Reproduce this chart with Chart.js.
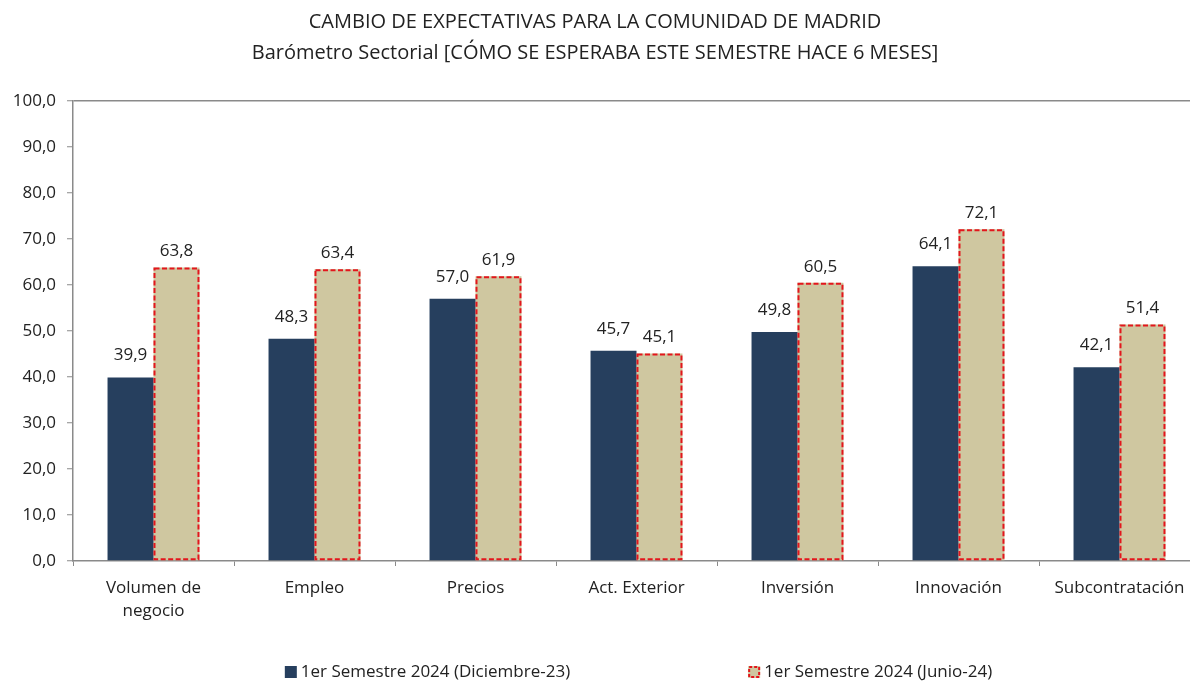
<!DOCTYPE html>
<html lang="es">
<head>
<meta charset="UTF-8">
<title>Cambio de expectativas - Comunidad de Madrid</title>
<script src="https://cdn.jsdelivr.net/npm/chart.js"></script>
<style>
    html, body { margin: 0; padding: 0; background: #fff; overflow: hidden; }
    .wrap { position: relative; width: 1190px; height: 682px; overflow: hidden; }
    #chart { position: absolute; left: -10px; top: 0; }
</style>
</head>
<body>
<div class="wrap">
    <canvas id="chart" width="1210" height="682"></canvas>
</div>
<script>
const titleLines = [
    'CAMBIO DE EXPECTATIVAS PARA LA COMUNIDAD DE MADRID',
    'Barómetro Sectorial [CÓMO SE ESPERABA ESTE SEMESTRE HACE 6 MESES]'
];
const categories = [
    ['Volumen de', 'negocio'], 'Empleo', 'Precios', 'Act. Exterior',
    'Inversión', 'Innovación', 'Subcontratación'
];
const seriesNames = ['1er Semestre 2024 (Diciembre-23)', '1er Semestre 2024 (Junio-24)'];
const valuesDic23 = [39.9, 48.3, 57.0, 45.7, 49.8, 64.1, 42.1];
const valuesJun24 = [63.8, 63.4, 61.9, 45.1, 60.5, 72.1, 51.4];

const NAVY = '#263f5e';
const TAN = '#cfc7a0';
const RED = '#e3161c';
const AXIS = '#8a8a8a';
const TEXT = '#222222';
const FONT = '"Open Sans", "Noto Sans", sans-serif';

const fmt = v => v.toFixed(1).replace('.', ',');

// red dashed outline for the second series (bar elements have no borderDash)
const dashedBorder = {
    id: 'dashedBorder',
    afterDatasetsDraw(chart) {
        const ctx = chart.ctx;
        const meta = chart.getDatasetMeta(1);
        ctx.save();
        ctx.strokeStyle = RED;
        ctx.lineWidth = 2;
        ctx.setLineDash([5, 2.5]);
        meta.data.forEach(bar => {
            const p = bar.getProps(['x', 'y', 'base', 'width'], true);
            ctx.strokeRect(p.x - p.width / 2 + 1, p.y + 1, p.width - 2, p.base - p.y - 2);
        });
        ctx.restore();
    }
};

// value labels above bars
const valueLabels = {
    id: 'valueLabels',
    afterDatasetsDraw(chart) {
        const ctx = chart.ctx;
        ctx.save();
        ctx.font = '17px ' + FONT;
        ctx.fillStyle = TEXT;
        ctx.textAlign = 'center';
        ctx.textBaseline = 'middle';
        chart.data.datasets.forEach((ds, i) => {
            const lift = i === 0 ? 22 : 16;
            chart.getDatasetMeta(i).data.forEach((bar, j) => {
                ctx.fillText(fmt(ds.data[j]), bar.x, bar.y - lift);
            });
        });
        ctx.restore();
    }
};

// legend at the bottom, drawn by hand so the spacing matches
const bottomLegend = {
    id: 'bottomLegend',
    afterDraw(chart) {
        const ctx = chart.ctx;
        const area = chart.chartArea;
        const box = 12, gap = 4, itemGap = 178;
        ctx.save();
        ctx.font = '17px ' + FONT;
        const widths = seriesNames.map(n => box + gap + ctx.measureText(n).width);
        const total = widths[0] + itemGap + widths[1];
        let x = (area.left + area.right) / 2 - total / 2 + 2;
        const y = chart.height - 10;
        chart.data.datasets.forEach((ds, i) => {
            ctx.fillStyle = ds.backgroundColor;
            ctx.fillRect(x, y - box / 2, box, box);
            if (i === 1) {
                ctx.strokeStyle = RED;
                ctx.lineWidth = 2;
                ctx.setLineDash([3, 2]);
                ctx.strokeRect(x + 1, y - box / 2 + 1, box - 2, box - 2);
                ctx.setLineDash([]);
            }
            ctx.fillStyle = TEXT;
            ctx.textAlign = 'left';
            ctx.textBaseline = 'middle';
            ctx.fillText(seriesNames[i], x + box + gap, y);
            x += widths[i] + itemGap;
        });
        ctx.restore();
    }
};

new Chart(document.getElementById('chart'), {
    type: 'bar',
    data: {
        labels: categories,
        datasets: [
            { label: seriesNames[0], data: valuesDic23, backgroundColor: NAVY, borderWidth: 0 },
            { label: seriesNames[1], data: valuesJun24, backgroundColor: TAN, borderWidth: 0 }
        ]
    },
    options: {
        responsive: false,
        animation: false,
        devicePixelRatio: 1,
        categoryPercentage: 0.571,
        barPercentage: 1,
        layout: { padding: 0 },
        plugins: {
            legend: { display: false },
            tooltip: { enabled: false },
            title: {
                display: true,
                text: titleLines,
                color: TEXT,
                font: { family: FONT, size: 20, weight: 'normal', lineHeight: 31 / 20 },
                padding: { top: 7, bottom: 32 }
            }
        },
        scales: {
            x: {
                afterFit: s => { s.height = 121; },
                grid: {
                    offset: true,
                    drawOnChartArea: false,
                    tickLength: 5,
                    tickColor: AXIS,
                    tickWidth: 1
                },
                border: { color: AXIS, width: 1.5 },
                ticks: {
                    color: TEXT,
                    padding: 11,
                    maxRotation: 0,
                    autoSkip: false,
                    font: { family: FONT, size: 17, lineHeight: 23 / 17 }
                }
            },
            y: {
                min: 0,
                max: 100,
                afterFit: s => { s.width = 83; },
                grid: {
                    color: c => c.tick && c.tick.value === 100 ? AXIS : 'rgba(0,0,0,0)',
                    lineWidth: 1.5,
                    tickLength: 6,
                    tickColor: AXIS,
                    tickWidth: 1
                },
                border: { color: AXIS, width: 1.5 },
                ticks: {
                    stepSize: 10,
                    color: TEXT,
                    padding: 11,
                    font: { family: FONT, size: 17 },
                    callback: v => fmt(v)
                }
            }
        }
    },
    plugins: [dashedBorder, valueLabels, bottomLegend]
});
</script>
</body>
</html>
